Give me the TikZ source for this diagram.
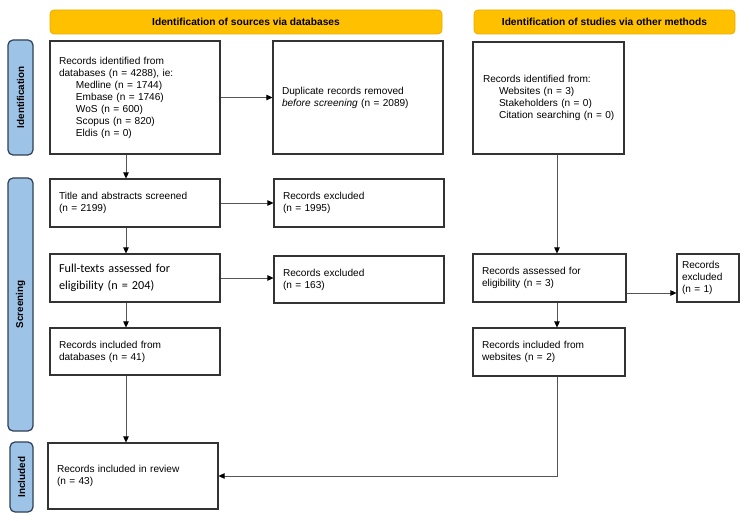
\documentclass[tikz,border=0pt]{standalone}
\usepackage{fontspec}
\setmainfont{Liberation Sans}
\newfontfamily\calib{Carlito}
\usetikzlibrary{arrows.meta,calc}
\definecolor{hdrfill}{HTML}{FFC000}
\definecolor{hdrdraw}{HTML}{E8AE00}
\definecolor{sidefill}{HTML}{9DC3E6}
\definecolor{sidedraw}{HTML}{2F3F55}
\definecolor{boxdraw}{HTML}{333333}
\definecolor{lnc}{HTML}{555555}
\tikzset{
  hdr/.style={draw=hdrdraw, fill=hdrfill, rounded corners=4pt, line width=0.8pt, font=\fontsize{10.2}{12}\selectfont\bfseries, inner sep=0pt},
  side/.style={draw=sidedraw, fill=sidefill, rounded corners=5pt, line width=1.2pt, font=\fontsize{9.9}{12}\selectfont\bfseries, inner sep=0pt},
  box/.style={draw=boxdraw, line width=1.1pt, fill=white, inner xsep=9pt, inner ysep=2pt, align=left, font=\fontsize{10.1}{12}\selectfont},
  arr/.style={draw=lnc, line width=0.7pt, -{Triangle[length=6pt,width=5.5pt,color=black]}},
  ln/.style={draw=lnc, line width=0.7pt}
}
\begin{document}
\begin{tikzpicture}[x=1pt,y=-1pt]
\useasboundingbox (0,0) rectangle (750,521);
% headers
\node[hdr, minimum width=392pt, minimum height=24pt] (h1) at (246,22) {Identification of sources via databases};
\node[hdr, minimum width=261pt, minimum height=24pt] (h2) at (604.5,22) {Identification of studies via other methods};
% side labels
\node[side, minimum width=115pt, minimum height=25pt, rotate=90] (s1) at (20.5,97.5) {Identification};
\node[side, minimum width=253pt, minimum height=25pt, rotate=90] (s2) at (20.5,304.5) {Screening};
\node[side, minimum width=70pt, minimum height=23pt, rotate=90] (s3) at (21.5,477) {Included};
% left column
\node[box, minimum width=170pt, minimum height=113pt, text width=152pt] (id) at (135,97.5) {Records identified from\\databases (n = 4288), ie:\\\hspace*{17pt}Medline (n = 1744)\\\hspace*{17pt}Embase (n = 1746)\\\hspace*{17pt}WoS (n = 600)\\\hspace*{17pt}Scopus (n = 820)\\\hspace*{17pt}Eldis (n = 0)};
\node[box, minimum width=170pt, minimum height=113pt, text width=152pt] (dup) at (358,97.5) {Duplicate records removed\\\textit{before screening} (n = 2089)};
\node[box, minimum width=170pt, minimum height=48pt, text width=152pt] (tas) at (135,203) {Title and abstracts screened\\(n = 2199)};
\node[box, minimum width=170pt, minimum height=48pt, text width=152pt] (ex1) at (359,203) {Records excluded\\(n = 1995)};
\node[box, minimum width=170pt, minimum height=48pt, text width=152pt, font=\calib\fontsize{12.2}{16.5}\selectfont] (ft) at (135,278) {Full-texts assessed for\\eligibility (n = 204)};
\node[box, minimum width=170pt, minimum height=47pt, text width=152pt] (ex2) at (359,279.5) {Records excluded\\(n = 163)};
\node[box, minimum width=170pt, minimum height=47pt, text width=152pt] (incdb) at (135,351.5) {Records included from\\databases (n = 41)};
\node[box, minimum width=170pt, minimum height=66pt, text width=152pt] (rev) at (133,476) {Records included in review\\(n = 43)};
% right column
\node[box, minimum width=151pt, minimum height=112pt, text width=131pt, inner xsep=10pt] (oid) at (548.5,98) {Records identified from:\\\hspace*{16pt}Websites (n = 3)\\\hspace*{16pt}Stakeholders (n = 0)\\\hspace*{16pt}\mbox{Citation searching (n = 0)}};
\node[box, minimum width=153pt, minimum height=48pt, text width=135pt] (oas) at (549.5,278) {Records assessed for\\eligibility (n = 3)};
\node[box, minimum width=62pt, minimum height=48pt, text width=52pt, inner xsep=5pt] (oex) at (708,278) {Records\\excluded\\(n = 1)};
\node[box, minimum width=152pt, minimum height=48pt, text width=134pt] (oinc) at (549,352) {Records included from\\websites (n = 2)};
% helper coordinates
\coordinate (ax) at (126,0);
\coordinate (bx) at (557,0);
\coordinate (cy) at (0,293);
% connectors
\draw[arr] (id.east) -- (dup.west);
\draw[arr] (id.south -| ax) -- (tas.north -| ax);
\draw[arr] (tas.east) -- (ex1.west);
\draw[arr] (tas.south -| ax) -- (ft.north -| ax);
\draw[arr] (ft.east) -- (ex2.west |- ft.east);
\draw[arr] (ft.south -| ax) -- (incdb.north -| ax);
\draw[arr] (incdb.south -| ax) -- (rev.north -| ax);
\draw[arr] (oid.south -| bx) -- (oas.north -| bx);
\draw[arr] (oas.east |- cy) -- (oex.west |- cy);
\draw[arr] (oas.south -| bx) -- (oinc.north -| bx);
\draw[arr] (oinc.south -| bx) |- (rev.east);
\end{tikzpicture}
\end{document}
